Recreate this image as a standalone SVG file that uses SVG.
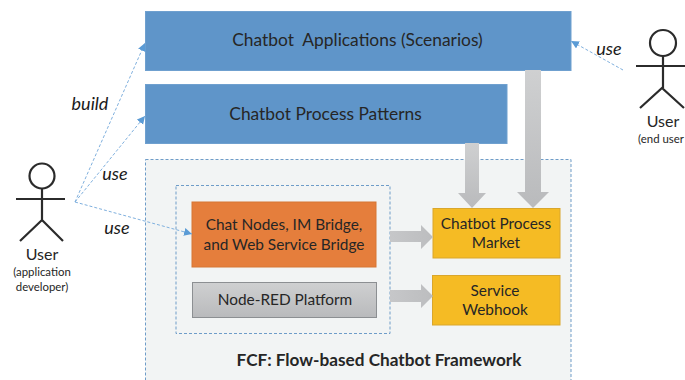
<svg xmlns="http://www.w3.org/2000/svg" width="685" height="380" viewBox="0 0 685 380">
<defs>
<linearGradient id="g" x1="0" y1="0" x2="0" y2="1"><stop offset="0" stop-color="#cfd0d1"/><stop offset="1" stop-color="#b9babc"/></linearGradient>
<linearGradient id="gh" x1="0" y1="0" x2="1" y2="0"><stop offset="0" stop-color="#c6c7c9"/><stop offset="1" stop-color="#bcbdbf"/></linearGradient>
<marker id="a" markerUnits="userSpaceOnUse" markerWidth="10" markerHeight="10" refX="8" refY="4" orient="auto"><path d="M0 0L8 4L0 8Z" fill="#5b9bd5"/></marker>
</defs>
<style>
text{font-family:"Lato","Open Sans","Liberation Sans",sans-serif;fill:#262626;text-anchor:middle}
.blue{fill:#5f95c9;stroke:#6fa0cf;stroke-width:1}
.yel{fill:#f5bb24;stroke:#d9a62c;stroke-width:1}
.dash{fill:none;stroke:#6e9cc8;stroke-width:1;stroke-dasharray:3 2}
.conn{fill:none;stroke:#7fb0de;stroke-width:1;stroke-dasharray:3 2;marker-end:url(#a)}
.st{fill:none;stroke:#2b2b2b;stroke-width:2.2}
.l{font-size:17.400px}.m{font-size:15.400px}.u{font-size:18px;font-style:italic;fill:#1a1a1a}
.small{font-size:11.400px}
</style>
<rect width="685" height="380" fill="#fff"/>
<g id="framework">
<rect class="dash" x="145.500" y="159.500" width="425.500" height="225" style="fill:#f2f4f4"/>
<text x="379" y="366" style="font-size:17.200px;font-weight:700">FCF: Flow-based Chatbot Framework</text>
</g>
<g id="inner-group"><rect class="dash" x="176" y="185.500" width="214" height="148"/></g>
<g id="chatbot-applications"><rect class="blue" x="145.500" y="11.500" width="425.500" height="59"/>
<text class="l" x="357.500" y="46" xml:space="preserve">Chatbot  Applications (Scenarios)</text></g>
<g id="chatbot-process-patterns"><rect class="blue" x="145.500" y="84.500" width="361.500" height="59"/>
<text class="l" x="325.500" y="120">Chatbot Process Patterns</text></g>
<g id="chat-nodes"><rect x="192" y="202" width="184" height="65" fill="#e57e3c" stroke="#d67635"/>
<text class="m" x="284" y="230">Chat Nodes, IM Bridge,</text><text class="m" x="284" y="250">and Web Service Bridge</text></g>
<g id="node-red"><rect x="192.500" y="282.500" width="184" height="35" fill="url(#g)" stroke="#8c8f92"/>
<text class="m" x="285" y="305">Node-RED Platform</text></g>
<g id="market"><rect class="yel" x="433" y="208.500" width="127" height="49.500"/>
<text class="m" x="496" y="229">Chatbot Process</text><text class="m" x="496" y="248">Market</text></g>
<g id="webhook"><rect class="yel" x="432.500" y="275.500" width="127.500" height="49.500"/>
<text class="m" x="495" y="296">Service</text><text class="m" x="495" y="315">Webhook</text></g>
<g id="connectors">
<path d="M525 70H541V192H549L533 208L517 192H525Z" fill="url(#g)"/>
<path d="M465 143H479V193H486L472 208L458 193H465Z" fill="url(#g)"/>
<path d="M390 231H421V225L433 237L421 249V242H390Z" fill="url(#gh)"/>
<path d="M390 290H421V284L433 296L421 308V302H390Z" fill="url(#gh)"/>
<path class="conn" d="M75 202L145 43"/>
<path class="conn" d="M75 202L145 116"/>
<path class="conn" d="M75 202L192 234"/>
<path class="conn" d="M623 70L571 41"/>
</g>
<g id="user-developer">
<circle class="st" cx="42" cy="176" r="12.500"/><path class="st" d="M42 189V220M16 199H65M20 241L42 220L63 241"/>
<text x="42" y="260" style="font-size:16px">User</text>
<text class="small" x="42" y="276">(application</text><text class="small" x="42" y="291">developer)</text>
</g>
<g id="user-end">
<circle class="st" cx="663" cy="43" r="13"/><path class="st" d="M663 56V88M636 66H685M640 108L662 88L684 108"/>
<text x="663" y="127" style="font-size:16px">User</text>
<text class="small" x="661" y="143">(end user</text>
</g>
<g id="labels">
<text class="u" x="90" y="110">build</text>
<text class="u" x="115" y="180">use</text>
<text class="u" x="117" y="234">use</text>
<text class="u" x="609" y="55">use</text>
</g>
</svg>
